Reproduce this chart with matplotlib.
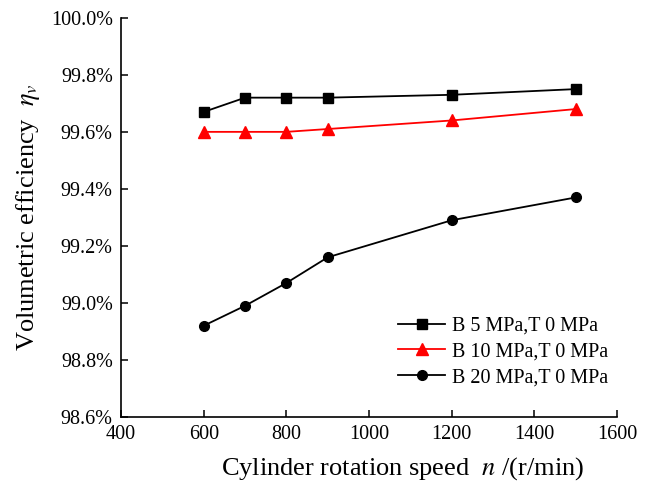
import matplotlib.pyplot as plt
from matplotlib.ticker import FuncFormatter

plt.rcParams['font.family'] = ['Liberation Serif', 'DejaVu Serif']
plt.rcParams['mathtext.fontset'] = 'stix'

# data
speed = [600, 700, 800, 900, 1200, 1500]
eff_b5 = [99.67, 99.72, 99.72, 99.72, 99.73, 99.75]
eff_b10 = [99.60, 99.60, 99.60, 99.61, 99.64, 99.68]
eff_b20 = [98.92, 98.99, 99.07, 99.16, 99.29, 99.37]
labels = ['B 5 MPa,T 0 MPa', 'B 10 MPa,T 0 MPa', 'B 20 MPa,T 0 MPa']

fig = plt.figure(figsize=(6.51, 4.82), dpi=100)
ax = fig.add_axes([0.186, 0.135, 0.762, 0.828])

ax.plot(speed, eff_b5, 'k-', marker='s', ms=6.5, lw=1.3, label=labels[0])
ax.plot(speed, eff_b10, '-', color='red', marker='^', ms=8, lw=1.3, label=labels[1])
ax.plot(speed, eff_b20, 'k-', marker='o', ms=7, lw=1.3, label=labels[2])

ax.set_xlim(400, 1600)
ax.set_ylim(98.6, 100.0)
ax.set_xticks(range(400, 1601, 200))
ax.set_yticks([98.6 + 0.2 * i for i in range(8)])
ax.yaxis.set_major_formatter(FuncFormatter(lambda v, p: f'{v:.1f}%'))
ax.tick_params(labelsize=14.5, direction='in', length=5, width=1.1, pad=6)

ax.spines['top'].set_visible(False)
ax.spines['right'].set_visible(False)
ax.spines['left'].set_linewidth(1.2)
ax.spines['bottom'].set_linewidth(1.2)

ax.set_xlabel(r'Cylinder rotation speed  $n$ /(r/min)', fontsize=19)
ax.xaxis.set_label_coords(0.567, -0.095)
ax.set_ylabel(r'Volumetric efficiency  $\eta_v$', fontsize=19, labelpad=6)

ax.legend(loc='upper left', frameon=False, fontsize=14.5, handlelength=2.35,
          handletextpad=0.35, borderpad=0, borderaxespad=0, labelspacing=0.32,
          bbox_to_anchor=((398 - 121) / 496, (417 - 317) / 399))

fig.savefig('out.png', dpi=100)
